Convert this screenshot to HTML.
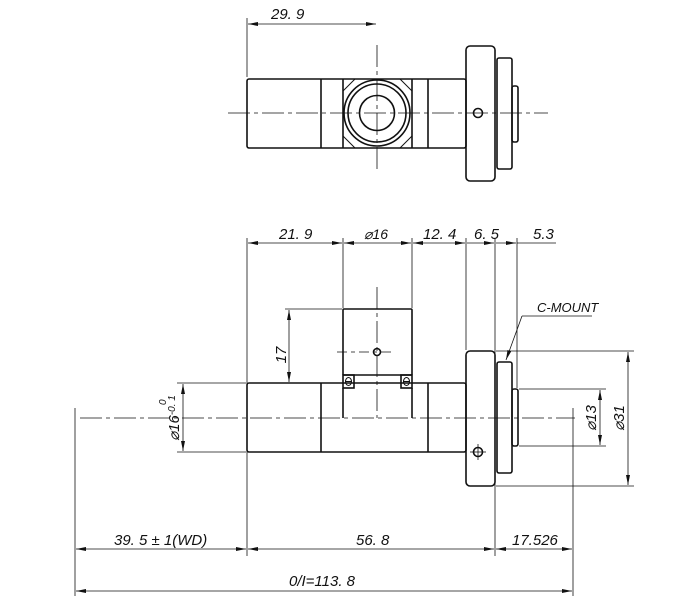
<!DOCTYPE html>
<html><head><meta charset="utf-8"><style>
html,body{margin:0;padding:0;background:#fff;}
svg{display:block;}
text{font-family:"Liberation Sans Narrow","Liberation Sans",sans-serif;font-style:italic;fill:#111;}
</style></head><body>
<svg width="700" height="614" viewBox="0 0 700 614" xmlns="http://www.w3.org/2000/svg">
<defs>
<marker id="a" viewBox="0 0 10 4" refX="10" refY="2" markerWidth="10" markerHeight="4" orient="auto-start-reverse" markerUnits="userSpaceOnUse"><path d="M0,0L10,2L0,4z" fill="#111"/></marker>
</defs>
<g stroke="#111" fill="none">
<!-- ===== TOP VIEW ===== -->
<g stroke-width="1.6">
<rect x="247" y="79" width="219" height="69" rx="2"/>
<line x1="321" y1="79" x2="321" y2="148"/>
<line x1="343" y1="79" x2="343" y2="148"/>
<line x1="412" y1="79" x2="412" y2="148"/>
<line x1="428" y1="79" x2="428" y2="148"/>
<rect x="466" y="46" width="29" height="135" rx="4"/>
<rect x="497" y="58" width="15" height="111" rx="2"/>
<rect x="512" y="86" width="6" height="56" rx="2"/>
<circle cx="377" cy="113" r="33"/>
<circle cx="377" cy="113" r="29"/>
<circle cx="377" cy="113" r="17.5"/>
<circle cx="478" cy="113" r="4.5"/>
</g>
<g stroke-width="1">
<line x1="343" y1="91" x2="355" y2="79"/><line x1="412" y1="91" x2="400" y2="79"/>
<line x1="343" y1="136" x2="355" y2="148"/><line x1="412" y1="136" x2="400" y2="148"/>
</g>
<g stroke-width="0.8">
<line x1="228" y1="113" x2="548" y2="113" stroke-dasharray="22,4,4,4"/>
<line x1="377" y1="45" x2="377" y2="172" stroke-dasharray="22,4,4,4"/>
<line x1="247" y1="18" x2="247" y2="77"/>
<line x1="248" y1="24" x2="376" y2="24" marker-start="url(#a)" marker-end="url(#a)"/>
</g>
<!-- ===== FRONT VIEW ===== -->
<g stroke-width="1.6">
<rect x="247" y="383" width="219" height="69" rx="2"/>
<line x1="321" y1="383" x2="321" y2="452"/>
<line x1="428" y1="383" x2="428" y2="452"/>
<rect x="343" y="309" width="69" height="66" rx="1"/>
<rect x="343" y="375" width="11" height="13"/>
<rect x="401" y="375" width="11" height="13"/>
<line x1="343" y1="388" x2="343" y2="418"/>
<line x1="412" y1="388" x2="412" y2="418"/>
<rect x="466" y="351" width="29" height="135" rx="4"/>
<rect x="497" y="362" width="15" height="111" rx="2"/>
<rect x="512" y="389" width="6" height="57" rx="2"/>
<circle cx="377" cy="352" r="3.5"/>
<circle cx="478" cy="452" r="4.5"/>
</g>
<g stroke-width="1">
<ellipse cx="348.5" cy="381.5" rx="3" ry="4"/><line x1="345" y1="381.5" x2="352" y2="381.5"/>
<ellipse cx="406.5" cy="381.5" rx="3" ry="4"/><line x1="403" y1="381.5" x2="410" y2="381.5"/>
</g>
<g stroke-width="0.8">
<line x1="80" y1="418" x2="575" y2="418" stroke-dasharray="22,4,4,4"/>
<line x1="377" y1="287" x2="377" y2="418" stroke-dasharray="22,4,4,4"/>
<line x1="337" y1="352" x2="395" y2="352" stroke-dasharray="10,4,4,4"/>
<line x1="470" y1="452" x2="486" y2="452"/><line x1="478" y1="444" x2="478" y2="460"/>
<!-- extension lines top -->
<line x1="247" y1="238" x2="247" y2="556"/>
<line x1="343" y1="238" x2="343" y2="308"/>
<line x1="412" y1="238" x2="412" y2="308"/>
<line x1="466" y1="238" x2="466" y2="350"/>
<line x1="495" y1="238" x2="495" y2="556"/>
<line x1="517" y1="238" x2="517" y2="388"/>
<!-- top dims -->
<line x1="248" y1="243" x2="342" y2="243" marker-start="url(#a)" marker-end="url(#a)"/>
<line x1="344" y1="243" x2="411" y2="243" marker-start="url(#a)" marker-end="url(#a)"/>
<line x1="413" y1="243" x2="465" y2="243" marker-start="url(#a)" marker-end="url(#a)"/>
<line x1="467" y1="243" x2="494" y2="243" marker-end="url(#a)"/>
<line x1="496" y1="243" x2="516" y2="243" marker-end="url(#a)"/>
<line x1="517" y1="243" x2="556" y2="243"/>
<!-- 17 -->
<line x1="285" y1="309" x2="342" y2="309"/>
<line x1="289" y1="310" x2="289" y2="382" marker-start="url(#a)" marker-end="url(#a)"/>
<!-- C-MOUNT -->
<line x1="522" y1="316" x2="592" y2="316"/>
<line x1="522" y1="316" x2="506" y2="360" marker-end="url(#a)"/>
<!-- left dia16 -->
<line x1="177" y1="383" x2="246" y2="383"/>
<line x1="177" y1="452" x2="246" y2="452"/>
<line x1="183" y1="384" x2="183" y2="451" marker-start="url(#a)" marker-end="url(#a)"/>
<!-- dia13, dia31 -->
<line x1="519" y1="389" x2="606" y2="389"/>
<line x1="519" y1="446" x2="606" y2="446"/>
<line x1="600" y1="390" x2="600" y2="445" marker-start="url(#a)" marker-end="url(#a)"/>
<line x1="496" y1="351" x2="634" y2="351"/>
<line x1="496" y1="486" x2="634" y2="486"/>
<line x1="628" y1="352" x2="628" y2="485" marker-start="url(#a)" marker-end="url(#a)"/>
<!-- bottom -->
<line x1="75" y1="408" x2="75" y2="596"/>
<line x1="573" y1="408" x2="573" y2="596"/>
<line x1="76" y1="549" x2="246" y2="549" marker-start="url(#a)" marker-end="url(#a)"/>
<line x1="248" y1="549" x2="494" y2="549" marker-start="url(#a)" marker-end="url(#a)"/>
<line x1="496" y1="549" x2="572" y2="549" marker-start="url(#a)" marker-end="url(#a)"/>
<line x1="76" y1="591" x2="572" y2="591" marker-start="url(#a)" marker-end="url(#a)"/>
</g>
</g>
<g font-size="15">
<text x="271" y="19">29. 9</text>
<text x="279" y="239">21. 9</text>
<text x="364" y="239" font-size="14">⌀16</text>
<text x="423" y="239">12. 4</text>
<text x="474" y="239">6. 5</text>
<text x="533" y="239">5.3</text>
<text x="537" y="312" font-size="13">C-MOUNT</text>
<text transform="translate(286,355) rotate(-90)" text-anchor="middle">17</text>
<text transform="translate(179,418) rotate(-90)" text-anchor="middle">⌀16<tspan font-size="10" dy="-4">-0. 1</tspan></text>
<text transform="translate(166,405) rotate(-90)" font-size="10">0</text>
<text transform="translate(596,418) rotate(-90)" text-anchor="middle">⌀13</text>
<text transform="translate(624,418) rotate(-90)" text-anchor="middle">⌀31</text>
<text x="114" y="545">39. 5 ± 1(WD)</text>
<text x="356" y="545">56. 8</text>
<text x="512" y="545">17.526</text>
<text x="289" y="586">0/I=113. 8</text>
</g>
</svg>
</body></html>
